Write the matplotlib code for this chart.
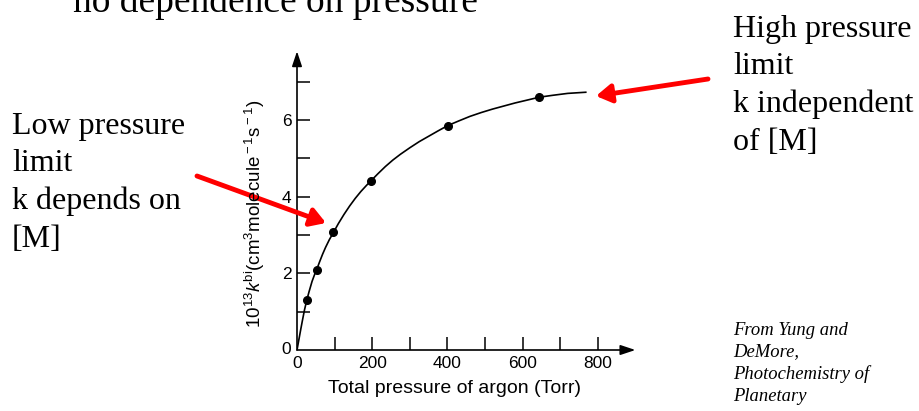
import matplotlib.pyplot as plt
from matplotlib.patches import FancyArrowPatch

W, H = 919, 411

# measured points (Torr, 1e13 k)
p_data = [26, 52, 97, 196, 401, 644]
k_data = [1.3, 2.09, 3.07, 4.41, 5.86, 6.6]

# fitted curve
p_curve = [0, 5, 10, 15, 20, 26, 32, 40, 46, 52, 60, 68, 76, 86, 97, 110, 125,
           140, 155, 170, 185, 196, 215, 235, 255, 275, 300, 325, 350, 375, 401,
           430, 460, 490, 520, 550, 580, 610, 644, 680, 720, 768]
k_curve = [0, 0.27, 0.54, 0.8, 1.05, 1.3, 1.52, 1.79, 1.95, 2.09, 2.3, 2.5, 2.68,
           2.88, 3.07, 3.3, 3.54, 3.76, 3.96, 4.14, 4.3, 4.41, 4.6, 4.79, 4.96,
           5.11, 5.28, 5.44, 5.58, 5.72, 5.86, 5.98, 6.1, 6.2, 6.29, 6.37, 6.45,
           6.52, 6.6, 6.65, 6.7, 6.73]

x_ticks = [100, 200, 300, 400, 500, 600, 700, 800]
x_labels = ['', '200', '', '400', '', '600', '', '800']
y_ticks = [1, 2, 3, 4, 5, 6, 7]
y_labels = ['', '2', '', '4', '', '6', '']

plt.rcParams['mathtext.fontset'] = 'custom'
plt.rcParams['mathtext.rm'] = 'Liberation Sans'
plt.rcParams['mathtext.it'] = 'Liberation Sans:italic'

fig = plt.figure(figsize=(W / 100, H / 100), dpi=100)


def fx(px):
    return px / W


def fy(py):
    return 1 - py / H


# axes: x=0 at px 297, 100 Torr = 37.6 px; y=0 at py 350, 1 unit = 38.3 px
x0, y0 = 297, 350
sx, sy = 0.376, 38.3
xmax, ymax = 900, 7.8
ax = fig.add_axes([fx(x0), fy(y0), xmax * sx / W, ymax * sy / H])
ax.set_xlim(0, xmax)
ax.set_ylim(0, ymax)
for s in ax.spines.values():
    s.set_visible(False)

ax.plot(p_curve, k_curve, color='black', lw=1.2)
ax.plot(p_data, k_data, 'o', color='black', ms=5.5)

ax.set_xticks(x_ticks)
ax.set_xticklabels(x_labels)
ax.set_yticks(y_ticks)
ax.set_yticklabels(y_labels)
ax.tick_params(direction='in', length=9.5, width=1.1, labelsize=12.5, pad=4)
for t in ax.get_xticklabels() + ax.get_yticklabels():
    t.set_family('Liberation Sans')

# axis lines with arrow heads
ax.annotate('', xy=(1.0, 0), xytext=(0, 0), xycoords='axes fraction',
            arrowprops=dict(arrowstyle='-|>,head_length=0.9,head_width=0.3',
                            color='black', lw=1.2, shrinkA=0, shrinkB=0))
ax.annotate('', xy=(0, 1.0), xytext=(0, 0), xycoords='axes fraction',
            arrowprops=dict(arrowstyle='-|>,head_length=0.9,head_width=0.3',
                            color='black', lw=1.2, shrinkA=0, shrinkB=0))

fig.text(fx(291), fy(350), '0', ha='right', va='center', fontsize=12.5,
         family='Liberation Sans')
fig.text(fx(297), fy(356), '0', ha='center', va='top', fontsize=12.5,
         family='Liberation Sans')

fig.text(fx(454), fy(388), 'Total pressure of argon (Torr)', ha='center',
         va='center', fontsize=14, family='Liberation Sans')
fig.text(fx(255), fy(214),
         r'$10^{13}k^{\rm bi}$(cm$^3$molecule$^{\rm -1}$s$^{\rm -1}$)',
         ha='center', va='center', rotation=90, fontsize=13.5,
         family='Liberation Sans')

serif = 'Liberation Serif'
fig.text(fx(73), fy(12), 'no dependence on pressure', ha='left',
         va='baseline', fontsize=27, family=serif)
fig.text(fx(12), fy(112), 'Low pressure\nlimit\nk depends on\n[M]', ha='left',
         va='top', fontsize=23, family=serif, linespacing=1.38)
fig.text(fx(733), fy(15), 'High pressure\nlimit\nk independent\nof [M]',
         ha='left', va='top', fontsize=23, family=serif, linespacing=1.38)
fig.text(fx(733), fy(322), 'From Yung and\nDeMore,\nPhotochemistry of\nPlanetary',
         ha='left', va='top', fontsize=13.4, family=serif, style='italic',
         linespacing=1.35)

# red arrows
for (tx, ty), (hx, hy) in [((197, 176), (326, 223)), ((708, 79), (596, 96))]:
    fig.add_artist(FancyArrowPatch((fx(tx), fy(ty)), (fx(hx), fy(hy)),
                                   transform=fig.transFigure,
                                   arrowstyle='-|>,head_length=9,head_width=5.5',
                                   color='red', lw=3.5, shrinkA=0, shrinkB=0))

fig.savefig('out.png', dpi=100)
